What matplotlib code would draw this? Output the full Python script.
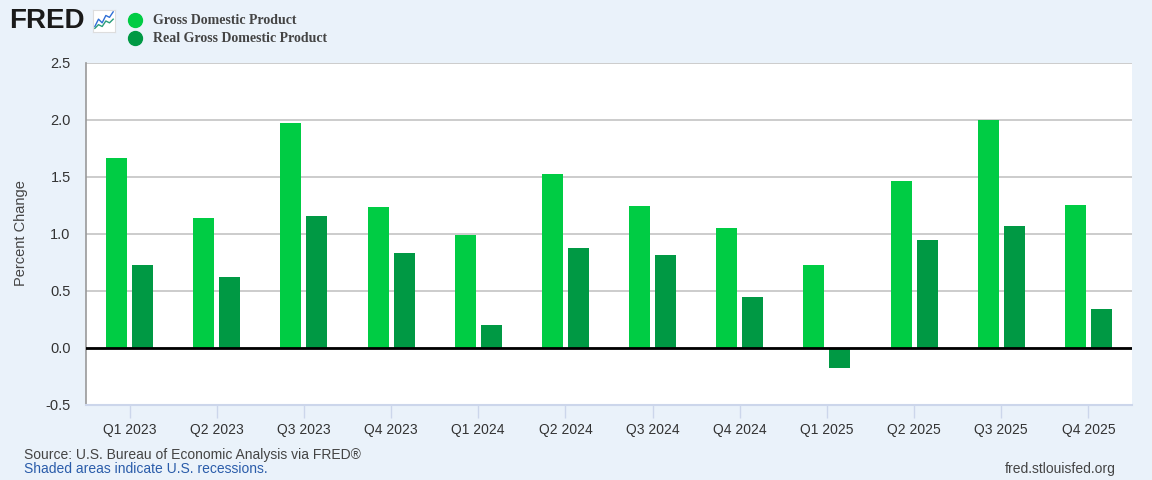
import matplotlib.pyplot as plt
from matplotlib.lines import Line2D
import numpy as np


quarters = ["Q1 2023", "Q2 2023", "Q3 2023", "Q4 2023",
            "Q1 2024", "Q2 2024", "Q3 2024", "Q4 2024",
            "Q1 2025", "Q2 2025", "Q3 2025", "Q4 2025"]
gdp = [1.66, 1.14, 1.97, 1.23, 0.99, 1.52, 1.24, 1.05, 0.72, 1.46, 2.00, 1.25]
real_gdp = [0.72, 0.62, 1.15, 0.83, 0.20, 0.87, 0.81, 0.44, -0.18, 0.94, 1.07, 0.34]
series_names = ["Gross Domestic Product", "Real Gross Domestic Product"]
yticks = [-0.5, 0.0, 0.5, 1.0, 1.5, 2.0, 2.5]

BG = "#eaf2fa"
C_GDP = "#00cc44"
C_REAL = "#009944"
W, H = 1152, 480

plt.rcParams["font.family"] = ["Liberation Sans", "DejaVu Sans"]

fig = plt.figure(figsize=(W / 100, H / 100), dpi=100, facecolor=BG)
ax = fig.add_axes([86 / W, 1 - 404.5 / H, (1132 - 86) / W, (404.5 - 62.5) / H])
ax.set_facecolor("white")

x = np.arange(len(quarters))
bw = 0.24
off = 0.149
ax.bar(x - off, gdp, bw, color=C_GDP, zorder=3)
ax.bar(x + off, real_gdp, bw, color=C_REAL, zorder=3)

ax.set_xlim(-0.5, len(quarters) - 0.5)
ax.set_ylim(-0.5, 2.5)
ax.set_yticks(yticks)
ax.set_yticklabels([f"{v:.1f}" for v in yticks])
ax.set_xticks(x)
ax.set_xticklabels(quarters)
ax.grid(axis="y", color="#c4c4c4", linewidth=1.2, zorder=1)
ax.axhline(0, color="black", linewidth=2, zorder=4)

ax.tick_params(axis="y", length=0, pad=11, labelsize=10.5, labelcolor="#333333")
ax.tick_params(axis="x", length=9, width=1, color="#ccd6eb", pad=4,
               labelsize=10, labelcolor="#333333")
for s in ["top", "right"]:
    ax.spines[s].set_visible(False)
ax.spines["left"].set_color("#999999")
ax.spines["left"].set_linewidth(1.2)
ax.spines["bottom"].set_color("#ccd6eb")
ax.spines["bottom"].set_linewidth(1.5)

fig.text(21 / W, 1 - 233 / H, "Percent Change", rotation=90, ha="center",
         va="center", fontsize=10.5, color="#444444")

# header: logo and legend
fig.text(9 / W, 1 - 21 / H, "FRED", fontsize=20, fontweight="bold",
         color="#1a1a1a", va="center", ha="left")
icon = fig.add_axes([93 / W, 1 - 32 / H, 22 / W, 22 / H])
icon.set_facecolor("white")
icon.plot([0, 1, 2, 3, 4, 5], [1, 3, 2, 4, 3.5, 5], color="#2f6fd6", lw=1)
icon.plot([0, 1, 2, 3, 4, 5], [0.5, 1.5, 1, 2.5, 2, 3], color="#2a9d7a", lw=1)
icon.set_xlim(-0.5, 5.5)
icon.set_ylim(-0.5, 5.5)
icon.set_xticks([])
icon.set_yticks([])
for s in icon.spines.values():
    s.set_color("#dddddd")

for i, (name, c) in enumerate(zip(series_names, [C_GDP, C_REAL])):
    y = 1 - (20 + 18 * i) / H
    fig.add_artist(Line2D([135 / W], [y], marker="o", markersize=10,
                          color=c, transform=fig.transFigure))
    fig.text(153 / W, y, name, fontsize=10, fontweight="bold",
             family="Liberation Serif", color="#444444", va="center")

# footer
fig.text(24 / W, 1 - 455 / H, "Source: U.S. Bureau of Economic Analysis via FRED\u00ae",
         fontsize=10, color="#444444", va="center")
fig.text(24 / W, 1 - 469 / H, "Shaded areas indicate U.S. recessions.",
         fontsize=10, color="#2a5caa", va="center")
fig.text(1116 / W, 1 - 469 / H, "fred.stlouisfed.org", fontsize=10,
         color="#444444", va="center", ha="right")

fig.savefig("out.png", dpi=100, facecolor=BG)
